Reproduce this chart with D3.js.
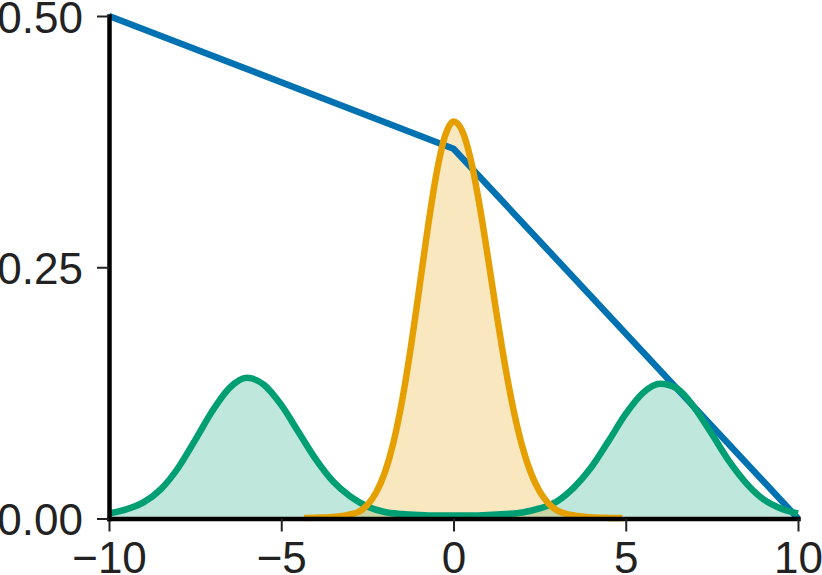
<!DOCTYPE html>
<html>
<head>
<meta charset="utf-8">
<script src="https://cdn.jsdelivr.net/npm/d3@7"></script>
<style>
  html, body { margin: 0; padding: 0; background: #fff; }
  svg { display: block; }
</style>
</head>
<body>
<svg id="chart" width="822" height="575"></svg>
<script>
// ---- data ----
const xTicks = [-10, -5, 0, 5, 10];
const yTicks = [0, 0.25, 0.5];

const blueX = [-10, 0, 10];
const blueY = [0.5, 0.368, 0];

const greenX = [-10, -9.5, -9, -8.5, -8, -7.5, -7, -6.5, -6, -5.5, -5, -4.5, -4, -3.5, -3, -2.5, -2, -1.5, -1, -0.5,
                0, 0.5, 1, 1.5, 2, 2.5, 3, 3.5, 4, 4.5, 5, 5.5, 6, 6.5, 7, 7.5, 8, 8.5, 9, 9.5, 10];
const greenY = [0.005, 0.009, 0.016, 0.029, 0.050, 0.078, 0.107, 0.130, 0.140, 0.133, 0.113, 0.086, 0.059, 0.037, 0.022, 0.012, 0.0065, 0.0045, 0.0035, 0.003,
                0.003, 0.003, 0.0035, 0.0045, 0.006, 0.010, 0.017, 0.031, 0.051, 0.077, 0.104, 0.125, 0.134, 0.129, 0.110, 0.084, 0.057, 0.035, 0.019, 0.010, 0.005];

const orangeX = [-4.34, -4, -3.5, -3, -2.75, -2.5, -2.25, -2, -1.75, -1.5, -1.25, -1, -0.75, -0.5, -0.25, 0,
                 0.25, 0.5, 0.75, 1, 1.25, 1.5, 1.75, 2, 2.25, 2.5, 2.75, 3, 3.5, 4, 4.5, 4.9];
const orangeY = [0.0005, 0.0008, 0.0015, 0.004, 0.0067, 0.0135, 0.0256, 0.0452, 0.0747, 0.1157, 0.1676, 0.2273, 0.2883, 0.3421, 0.380, 0.395,
                 0.386, 0.3572, 0.313, 0.2597, 0.204, 0.1518, 0.1069, 0.0713, 0.045, 0.0269, 0.0152, 0.0082, 0.003, 0.0012, 0.0006, 0.0004];

// ---- drawing ----
const svg = d3.select("#chart");
const x = d3.scaleLinear().domain([-10, 10]).range([109, 798]);
const y = d3.scaleLinear().domain([0, 0.5]).range([518.5, 16]);

const BLUE = "#0072B2", ORANGE = "#E69F00", GREEN = "#009E73";
const SW = 6.5;

const zip = (xs, ys) => xs.map((v, i) => [v, ys[i]]);

const line = d3.line().x(d => x(d[0])).y(d => y(d[1])).curve(d3.curveMonotoneX);
const area = d3.area().x(d => x(d[0])).y0(y(0)).y1(d => y(d[1])).curve(d3.curveMonotoneX);
const lineLin = d3.line().x(d => x(d[0])).y(d => y(d[1]));

const g = zip(greenX, greenY);
const o = zip(orangeX, orangeY);

// fills
svg.append("path").datum(g).attr("d", area).attr("fill", GREEN).attr("fill-opacity", 0.25);
svg.append("path").datum(o).attr("d", area).attr("fill", ORANGE).attr("fill-opacity", 0.25);

// blue line
svg.append("path").datum(zip(blueX, blueY))
  .attr("d", lineLin).attr("fill", "none")
  .attr("stroke", BLUE).attr("stroke-width", SW).attr("stroke-linejoin", "round");

// density outlines
svg.append("path").datum(g).attr("d", line).attr("fill", "none")
  .attr("stroke", GREEN).attr("stroke-width", SW).attr("stroke-linejoin", "round");
svg.append("path").datum(o).attr("d", line).attr("fill", "none")
  .attr("stroke", ORANGE).attr("stroke-width", SW).attr("stroke-linejoin", "round");

// axes
const FONT = "'Liberation Sans', Arial, Helvetica, sans-serif";

const xAxis = svg.append("g").attr("transform", `translate(0,${y(0)})`)
  .call(d3.axisBottom(x).tickValues(xTicks).tickSize(13).tickSizeOuter(0).tickPadding(10));
const yAxis = svg.append("g").attr("transform", `translate(${x(-10)},0)`)
  .call(d3.axisLeft(y).tickValues(yTicks).tickSize(12).tickSizeOuter(0).tickPadding(14).tickFormat(d3.format(".2f")));

[xAxis, yAxis].forEach(a => {
  a.select(".domain").attr("stroke", "#000").attr("stroke-width", 4.5).attr("stroke-linecap", "square");
  a.selectAll(".tick line").attr("stroke", "#222").attr("stroke-width", 2);
  a.selectAll(".tick text").attr("fill", "#222").style("font-family", FONT).style("font-size", "44px");
});
yAxis.selectAll(".tick text").attr("dy", "0.37em");
xAxis.selectAll(".tick text").attr("dy", "0.71em");
</script>
</body>
</html>
